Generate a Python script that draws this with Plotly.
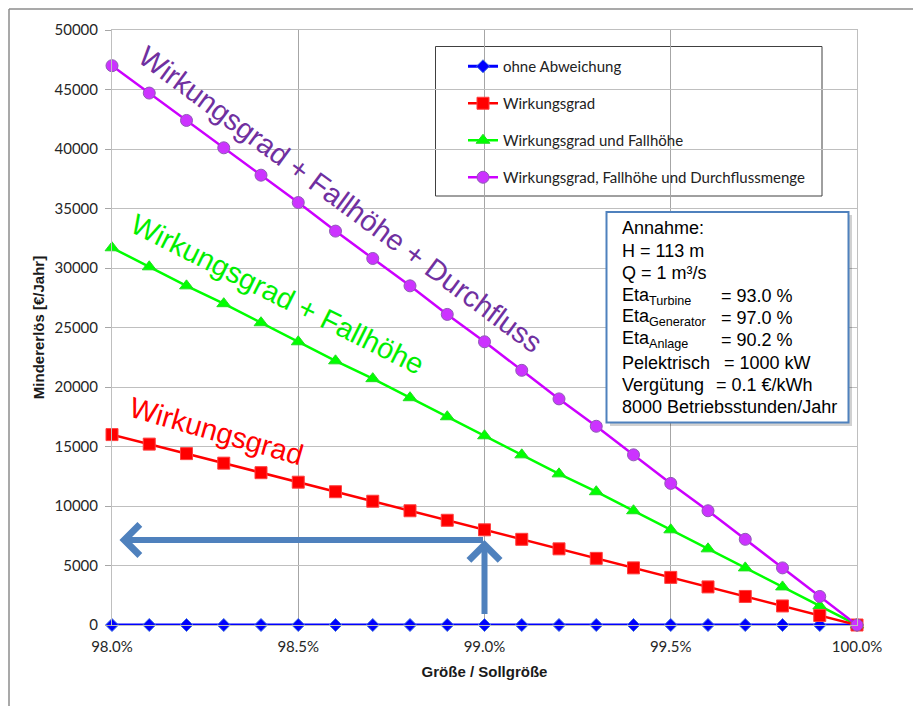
import plotly.graph_objects as go

# ---------------- data ----------------
x_vals = [98.0, 98.1, 98.2, 98.3, 98.4, 98.5, 98.6, 98.7, 98.8, 98.9, 99.0,
          99.1, 99.2, 99.3, 99.4, 99.5, 99.6, 99.7, 99.8, 99.9, 100.0]
ohne_abweichung = [0, 0, 0, 0, 0, 0, 0, 0, 0, 0, 0, 0, 0, 0, 0, 0, 0, 0, 0, 0, 0]
wirkungsgrad = [16000, 15200, 14400, 13600, 12800, 12000, 11200, 10400, 9600, 8800, 8000,
                7200, 6400, 5600, 4800, 4000, 3200, 2400, 1600, 800, 0]
wirkungsgrad_fallhoehe = [31700, 30100, 28500, 27000, 25400, 23800, 22200, 20700, 19100, 17500, 15900,
                          14300, 12700, 11200, 9600, 8000, 6400, 4800, 3200, 1600, 0]
wirkungsgrad_fallhoehe_durchfluss = [47000, 44700, 42400, 40100, 37800, 35500, 33100, 30800, 28500, 26100, 23800,
                                     21400, 19000, 16700, 14300, 11900, 9600, 7200, 4800, 2400, 0]
series_names = ["ohne Abweichung", "Wirkungsgrad", "Wirkungsgrad und Fallhöhe",
                "Wirkungsgrad, Fallhöhe und Durchflussmenge"]
x_ticks = [98.0, 98.5, 99.0, 99.5, 100.0]
x_tick_labels = ["98.0%", "98.5%", "99.0%", "99.5%", "100.0%"]
y_ticks = [0, 5000, 10000, 15000, 20000, 25000, 30000, 35000, 40000, 45000, 50000]
y_tick_labels = ["0", "5000", "10000", "15000", "20000", "25000", "30000", "35000", "40000", "45000", "50000"]

# arrow reading: from point 99.0 % up to the red curve and across to the y-axis
arrow_x = 99.0
arrow_y = 7150
arrow_y_start = 800
arrow_x_end = 98.02

annahme_lines = ["Annahme:", "H = 113 m", "Q = 1 m³/s"]
eta_labels = ["Eta<sub>Turbine</sub>", "Eta<sub>Generator</sub>", "Eta<sub>Anlage</sub>"]
eta_values = ["= 93.0 %", "= 97.0 %", "= 90.2 %"]
extra_labels = ["Pelektrisch", "Vergütung"]
extra_values = ["= 1000 kW", "= 0.1 €/kWh"]
last_line = "8000 Betriebsstunden/Jahr"

# ---------------- layout helpers (pixel -> paper) ----------------
W, H = 913, 706
L, R, T, B = 112, 857, 30, 625


def px(x):
    return (x - L) / (R - L)


def py(y):
    return (B - y) / (B - T)


fig = go.Figure()

fig.add_trace(go.Scatter(
    x=x_vals, y=ohne_abweichung, name=series_names[0], mode="lines+markers",
    line=dict(color="#0000FF", width=3),
    marker=dict(symbol="diamond", size=10, color="#0000FF", line=dict(color="#3F6FE0", width=1)),
    legendgroup="a", legendrank=1, cliponaxis=False))
fig.add_trace(go.Scatter(
    x=x_vals, y=wirkungsgrad_fallhoehe, name=series_names[2], mode="lines+markers",
    line=dict(color="#00FF00", width=2.5),
    marker=dict(symbol="triangle-up", size=12, color="#00FF00", line=dict(color="#22DD22", width=1)),
    legendgroup="c", legendrank=3, cliponaxis=False))
fig.add_trace(go.Scatter(
    x=x_vals, y=wirkungsgrad, name=series_names[1], mode="lines+markers",
    line=dict(color="#FF0000", width=2.5),
    marker=dict(symbol="square", size=12, color="#FF0000", line=dict(color="#FF4040", width=1)),
    legendgroup="b", legendrank=2, cliponaxis=False))
fig.add_trace(go.Scatter(
    x=x_vals, y=wirkungsgrad_fallhoehe_durchfluss, name=series_names[3], mode="lines+markers",
    line=dict(color="#CC00FF", width=2.5),
    marker=dict(symbol="circle", size=12, color="#CC33FF", line=dict(color="#8E5AB5", width=1)),
    legendgroup="d", legendrank=4, cliponaxis=False))

annotations = []

# big rotated series labels
big_font = "Liberation Sans, Arial, sans-serif"
annotations.append(dict(xref="paper", yref="paper", x=px(340), y=py(199), text="Wirkungsgrad + Fallhöhe + Durchfluss",
                        showarrow=False, textangle=36.5, font=dict(family=big_font, size=29, color="#7030A0"),
                        xanchor="center", yanchor="middle"))
annotations.append(dict(xref="paper", yref="paper", x=px(277), y=py(294), text="Wirkungsgrad + Fallhöhe",
                        showarrow=False, textangle=26.5, font=dict(family=big_font, size=29, color="#00EE00"),
                        xanchor="center", yanchor="middle"))
annotations.append(dict(xref="paper", yref="paper", x=px(216), y=py(431), text="Wirkungsgrad",
                        showarrow=False, textangle=16, font=dict(family=big_font, size=29, color="#FF0000"),
                        xanchor="center", yanchor="middle"))

# arrows
annotations.append(dict(xref="x", yref="y", axref="x", ayref="y", x=arrow_x, y=arrow_y,
                        ax=arrow_x, ay=arrow_y_start, text="", showarrow=True, arrowhead=4,
                        arrowsize=1.0, arrowwidth=6, arrowcolor="#4F81BD"))
annotations.append(dict(xref="x", yref="y", axref="x", ayref="y", x=arrow_x_end, y=arrow_y,
                        ax=arrow_x, ay=arrow_y, text="", showarrow=True, arrowhead=4,
                        arrowsize=1.0, arrowwidth=6, arrowcolor="#4F81BD"))

# Annahme box text
box_font = dict(family="Liberation Sans, Arial, sans-serif", size=18, color="#000000")
line_y = [228, 251, 273, 296, 318, 340, 363, 385, 407]
for i, t in enumerate(annahme_lines):
    annotations.append(dict(xref="paper", yref="paper", x=px(620), y=py(line_y[i]), text=t, showarrow=False,
                            xanchor="left", yanchor="middle", font=box_font))
for i, (lab, val) in enumerate(zip(eta_labels, eta_values)):
    annotations.append(dict(xref="paper", yref="paper", x=px(620), y=py(line_y[3 + i]), text=lab, showarrow=False,
                            xanchor="left", yanchor="middle", font=box_font))
    annotations.append(dict(xref="paper", yref="paper", x=px(719), y=py(line_y[3 + i]), text=val, showarrow=False,
                            xanchor="left", yanchor="middle", font=box_font))
extra_val_x = [722, 714]
for i, (lab, val) in enumerate(zip(extra_labels, extra_values)):
    annotations.append(dict(xref="paper", yref="paper", x=px(620), y=py(line_y[6 + i]), text=lab, showarrow=False,
                            xanchor="left", yanchor="middle", font=box_font))
    annotations.append(dict(xref="paper", yref="paper", x=px(extra_val_x[i]), y=py(line_y[6 + i]), text=val,
                            showarrow=False, xanchor="left", yanchor="middle", font=box_font))
annotations.append(dict(xref="paper", yref="paper", x=px(620), y=py(line_y[8]), text=last_line, showarrow=False,
                        xanchor="left", yanchor="middle", font=box_font))

shapes = [
    # outer frame (left & top visible)
    dict(type="line", xref="paper", yref="paper", x0=px(9), x1=px(9), y0=py(9), y1=py(710),
         line=dict(color="#8C8C8C", width=1.5)),
    dict(type="line", xref="paper", yref="paper", x0=px(9), x1=px(915), y0=py(9), y1=py(9),
         line=dict(color="#8C8C8C", width=1.5)),
    # legend frame
    dict(type="rect", xref="paper", yref="paper", x0=px(435.5), x1=px(822), y0=py(196), y1=py(46.5),
         line=dict(color="#404040", width=1), fillcolor="white", layer="below"),
    # Annahme box shadow + frame
    dict(type="rect", xref="paper", yref="paper", x0=px(610), x1=px(852), y0=py(426), y1=py(215),
         line=dict(width=0), fillcolor="rgba(0,0,0,0.18)", layer="above"),
    dict(type="rect", xref="paper", yref="paper", x0=px(606.5), x1=px(848.5), y0=py(422.5), y1=py(212),
         line=dict(color="#4F81BD", width=2), fillcolor="white", layer="above"),
]

tick_font = dict(family="Lato, Open Sans, sans-serif", size=15, color="#262626")

fig.update_layout(
    width=W, height=H, autosize=False,
    margin=dict(l=L, r=W - R, t=T, b=H - B, pad=0),
    paper_bgcolor="white", plot_bgcolor="white",
    showlegend=True,
    legend=dict(x=px(463), y=py(50), xanchor="left", yanchor="top", bgcolor="rgba(0,0,0,0)",
                borderwidth=0, tracegroupgap=14.5, traceorder="grouped",
                font=dict(family="Lato, Open Sans, sans-serif", size=15, color="#222222")),
    xaxis=dict(range=[98, 100], tickvals=x_ticks, ticktext=x_tick_labels, showgrid=True, gridcolor="#A6A6A6",
               gridwidth=1, showline=True, linecolor="#BFBFBF", linewidth=1, mirror=True, ticks="",
               zeroline=False, tickfont=tick_font, ticklabelstandoff=8, automargin=False,
               title=dict(text="<b>Größe / Sollgröße</b>", standoff=12,
                          font=dict(family="Liberation Sans, Arial, sans-serif", size=15, color="#1a1a1a"))),
    yaxis=dict(range=[0, 50000], tickvals=y_ticks, ticktext=y_tick_labels, showgrid=True, gridcolor="#BFBFBF",
               gridwidth=1, showline=True, linecolor="#BFBFBF", linewidth=1, mirror=True, ticks="outside",
               ticklen=6, tickcolor="#A6A6A6", zeroline=False, tickfont=tick_font, ticklabelstandoff=4,
               automargin=False,
               title=dict(text="<b>Mindererlös [€/Jahr]</b>", standoff=6,
                          font=dict(family="Liberation Sans, Arial, sans-serif", size=15, color="#1a1a1a"))),
    annotations=annotations,
    shapes=shapes,
)

fig.write_html("out.html")
